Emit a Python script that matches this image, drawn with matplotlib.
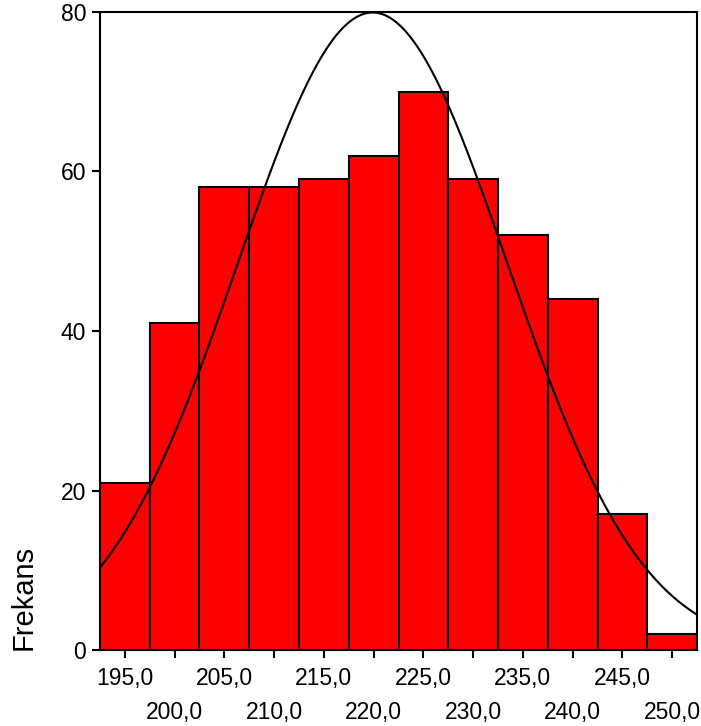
import numpy as np
import matplotlib.pyplot as plt

plt.rcParams['font.family'] = ['Liberation Sans', 'DejaVu Sans']

# histogram bins (centers) and counts
bin_centers = [195, 200, 205, 210, 215, 220, 225, 230, 235, 240, 245, 250]
counts = [21, 41, 58, 58, 59, 62, 70, 59, 52, 44, 17, 2]
bin_width = 5.0

# fitted normal curve parameters
mean = 219.9
sd = 13.55
n_total = sum(counts)

tick_labels = [f"{v:.1f}".replace('.', ',') for v in bin_centers]

fig = plt.figure(figsize=(7.01, 7.26), dpi=100)
ax = fig.add_axes([100/701, 1 - 650/726, 597/701, 638/726])

ax.bar(bin_centers, counts, width=bin_width, color='#ff0000',
       edgecolor='black', linewidth=1.5, zorder=2)

x = np.linspace(bin_centers[0] - bin_width/2, bin_centers[-1] + bin_width/2, 400)
y = n_total * bin_width / (sd * np.sqrt(2*np.pi)) * np.exp(-0.5*((x - mean)/sd)**2)
ax.plot(x, y, color='black', linewidth=1.5, zorder=3)

ax.set_xlim(bin_centers[0] - bin_width/2, bin_centers[-1] + bin_width/2)
ax.set_ylim(0, 80)
ax.set_yticks([0, 20, 40, 60, 80])
ax.set_xticks(bin_centers)
ax.set_xticklabels(tick_labels)

ax.tick_params(axis='both', direction='out', length=6, width=1.5, labelsize=16.5)
ax.tick_params(axis='x', pad=6)
ax.tick_params(axis='y', pad=4)
for i, t in enumerate(ax.xaxis.get_major_ticks()):
    if i % 2 == 1:
        t.set_pad(6 + 25)

for s in ax.spines.values():
    s.set_linewidth(1.5)

fig.text(24/701, 1 - 650/726, 'Frekans', rotation=90, ha='center', va='bottom',
         fontsize=21)

fig.savefig('out.png', dpi=100)
